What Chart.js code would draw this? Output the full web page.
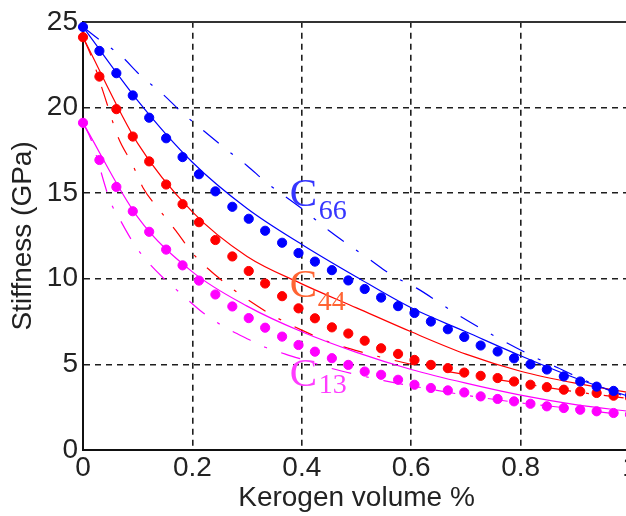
<!DOCTYPE html>
<html>
<head>
<meta charset="utf-8">
<script src="https://cdn.jsdelivr.net/npm/chart.js@4.4.1/dist/chart.umd.min.js"></script>
<style>
  html, body { margin: 0; padding: 0; background: #fff; overflow: hidden; }
  #wrap { width: 640px; height: 516px; }
</style>
</head>
<body>
<div id="wrap"><canvas id="c" width="640" height="516"></canvas></div>
<script>
// ---- data ----
const xTickLabels = ['0', '0.2', '0.4', '0.6', '0.8', '1'];
const yTickLabels = ['0', '5', '10', '15', '20', '25'];

const kerogenDots = [0, 0.03, 0.061, 0.091, 0.121, 0.152, 0.182, 0.212, 0.242, 0.273, 0.303, 0.333, 0.364, 0.394, 0.424, 0.455, 0.485, 0.515, 0.545, 0.576, 0.606, 0.636, 0.667, 0.697, 0.727, 0.758, 0.788, 0.818, 0.848, 0.879, 0.909, 0.939, 0.97, 1.0];
const c66Dots = [24.7, 23.3, 22.0, 20.7, 19.4, 18.2, 17.1, 16.1, 15.1, 14.2, 13.5, 12.8, 12.1, 11.5, 11.0, 10.5, 9.9, 9.4, 8.9, 8.4, 8.0, 7.5, 7.05, 6.6, 6.1, 5.75, 5.35, 5.0, 4.7, 4.3, 4.0, 3.7, 3.45, 3.2];
const c44Dots = [24.1, 21.8, 19.9, 18.3, 16.85, 15.5, 14.35, 13.3, 12.26, 11.3, 10.45, 9.72, 8.98, 8.27, 7.69, 7.16, 6.8, 6.38, 5.94, 5.61, 5.26, 4.97, 4.78, 4.52, 4.33, 4.2, 4.0, 3.81, 3.67, 3.52, 3.42, 3.33, 3.17, 3.05];
const c13Dots = [19.1, 16.93, 15.36, 13.94, 12.74, 11.7, 10.78, 9.89, 9.08, 8.38, 7.7, 7.14, 6.62, 6.13, 5.74, 5.36, 4.97, 4.58, 4.39, 4.1, 3.81, 3.62, 3.48, 3.36, 3.13, 2.98, 2.84, 2.7, 2.55, 2.45, 2.35, 2.26, 2.16, 2.07];

const kerogenSolid = [0, 0.1, 0.2, 0.3, 0.4, 0.5, 0.6, 0.7, 0.8, 0.9, 1.0];
const c66Solid = [24.7, 20.4, 16.8, 14.1, 12.0, 10.1, 8.3, 6.9, 5.5, 4.2, 3.1];
const c44Solid = [24.1, 17.9, 13.9, 11.3, 9.7, 8.3, 6.9, 5.6, 4.6, 3.9, 3.35];
const c13Solid = [19.1, 13.6, 10.4, 8.4, 6.9, 5.7, 4.7, 3.9, 3.2, 2.65, 2.25];

const c66DashX = [0, 0.03, 0.07, 0.104, 0.145, 0.181, 0.22, 0.26, 0.3, 0.336, 0.4, 0.45, 0.525, 0.565, 0.61, 0.68, 0.755, 0.83, 0.868, 0.915, 1.0];
const c66DashY = [24.7, 23.95, 23.0, 21.9, 20.8, 19.7, 18.65, 17.6, 16.6, 15.6, 14.1, 12.8, 11.1, 10.2, 9.45, 8.0, 6.6, 5.35, 4.8, 4.1, 3.0];
const c44DashX = [0, 0.015, 0.04, 0.065, 0.09, 0.11, 0.14, 0.17, 0.2, 0.25, 0.3, 0.35, 0.4, 0.45, 0.5, 0.56, 0.63, 0.7, 0.8, 0.9, 1.0];
const c44DashY = [24.1, 23.0, 20.6, 18.2, 16.7, 15.3, 14.0, 12.8, 11.5, 10.0, 8.8, 7.8, 7.0, 6.3, 5.8, 5.3, 4.8, 4.4, 3.9, 3.4, 3.0];
const c13DashX = [0, 0.015, 0.05, 0.065, 0.09, 0.11, 0.145, 0.18, 0.22, 0.255, 0.3, 0.333, 0.37, 0.41, 0.45, 0.5, 0.55, 0.6, 0.7, 0.8, 0.9, 1.0];
const c13DashY = [19.1, 18.1, 14.5, 13.6, 12.2, 11.3, 10.1, 9.1, 8.0, 7.25, 6.5, 6.0, 5.6, 5.2, 4.8, 4.4, 4.05, 3.75, 3.2, 2.75, 2.4, 2.0];

// curve labels (anchored in data units)
const curveLabels = [
  { main: 'C', sub: '66', color: '#3535ff', x: 0.378, y: 14.27, subX: 0.431, subY: 13.46 },
  { main: 'C', sub: '44', color: '#ff6433', x: 0.378, y: 8.92, subX: 0.429, subY: 8.17 },
  { main: 'C', sub: '13', color: '#ff3cff', x: 0.378, y: 3.75, subX: 0.431, subY: 3.34 }
];

const zip = (xs, ys) => xs.map((x, i) => ({ x: x, y: ys[i] }));

const BLUE = '#0000ff', RED = '#ff0000', MAG = '#ff00ff';
const DASHDOT = [20, 15, 3, 15];

function dots(data, color) {
  return { data: data, showLine: false, pointStyle: 'circle', pointRadius: 4.6, pointBorderWidth: 1,
    pointBackgroundColor: color, pointBorderColor: color, borderColor: color, clip: false };
}
function solid(data, color) {
  return { data: data, borderColor: color, borderWidth: 1.2, pointRadius: 0, cubicInterpolationMode: 'monotone', fill: false, clip: false };
}
function dashdot(data, color) {
  return { data: data, borderColor: color, borderWidth: 1.2, pointRadius: 0, borderDash: DASHDOT, cubicInterpolationMode: 'monotone', fill: false, clip: false };
}

const labelPlugin = {
  id: 'curveLabels',
  afterDatasetsDraw(chart) {
    const { ctx, scales: { x, y } } = chart;
    ctx.save();
    ctx.textBaseline = 'alphabetic';
    ctx.textAlign = 'left';
    curveLabels.forEach(l => {
      ctx.fillStyle = l.color;
      ctx.font = '41px "Liberation Serif", "Times New Roman", serif';
      ctx.fillText(l.main, x.getPixelForValue(l.x), y.getPixelForValue(l.y));
      ctx.font = '28px "Liberation Serif", "Times New Roman", serif';
      ctx.fillText(l.sub, x.getPixelForValue(l.subX), y.getPixelForValue(l.subY));
    });
    ctx.restore();
  }
};

const FONT = '"Liberation Sans", Arial, sans-serif';

new Chart(document.getElementById('c'), {
  type: 'line',
  data: {
    datasets: [
      dots(zip(kerogenDots, c66Dots), BLUE),
      dots(zip(kerogenDots, c44Dots), RED),
      dots(zip(kerogenDots, c13Dots), MAG),
      solid(zip(kerogenSolid, c66Solid), BLUE),
      solid(zip(kerogenSolid, c44Solid), RED),
      solid(zip(kerogenSolid, c13Solid), MAG),
      dashdot(zip(c66DashX, c66DashY), BLUE),
      dashdot(zip(c44DashX, c44DashY), RED),
      dashdot(zip(c13DashX, c13DashY), MAG)
    ]
  },
  options: {
    responsive: false,
    animation: false,
    devicePixelRatio: 1,
    layout: { padding: { top: 20, right: 10, bottom: 0, left: 0 } },
    plugins: { legend: { display: false }, tooltip: { enabled: false } },
    scales: {
      x: {
        type: 'linear', position: 'bottom', min: 0, max: 1,
        afterFit: s => { s.height = 66; },
        ticks: { stepSize: 0.2, padding: 1, color: '#222', font: { family: FONT, size: 28 },
          maxRotation: 0, autoSkip: false,
          callback: (v, i) => xTickLabels[i] },
        grid: { color: '#1e1e1e', lineWidth: 1.6, drawTicks: false },
        border: { display: true, color: '#111', width: 2, dash: [6, 5] },
        title: { display: true, text: 'Kerogen volume %', color: '#222',
          font: { family: FONT, size: 28 }, padding: { top: 0, bottom: 1 } }
      },
      x2: {
        type: 'linear', position: 'top', min: 0, max: 1,
        afterFit: s => { s.height = 0; },
        ticks: { display: false },
        grid: { display: false, drawTicks: false },
        border: { display: true, color: '#333', width: 2 }
      },
      y: {
        type: 'linear', position: 'left', min: 0, max: 25,
        afterFit: s => { s.width = 83; },
        ticks: { stepSize: 5, padding: 5, color: '#222', font: { family: FONT, size: 28 },
          callback: (v, i) => yTickLabels[i] },
        grid: { color: '#1e1e1e', lineWidth: 1.6, drawTicks: false },
        border: { display: true, color: '#111', width: 2, dash: [6, 5] },
        title: { display: true, text: 'Stiffness (GPa)', color: '#222',
          font: { family: FONT, size: 28 }, padding: { top: 6.5, bottom: 0 } }
      }
    }
  },
  plugins: [labelPlugin]
});
</script>
</body>
</html>
